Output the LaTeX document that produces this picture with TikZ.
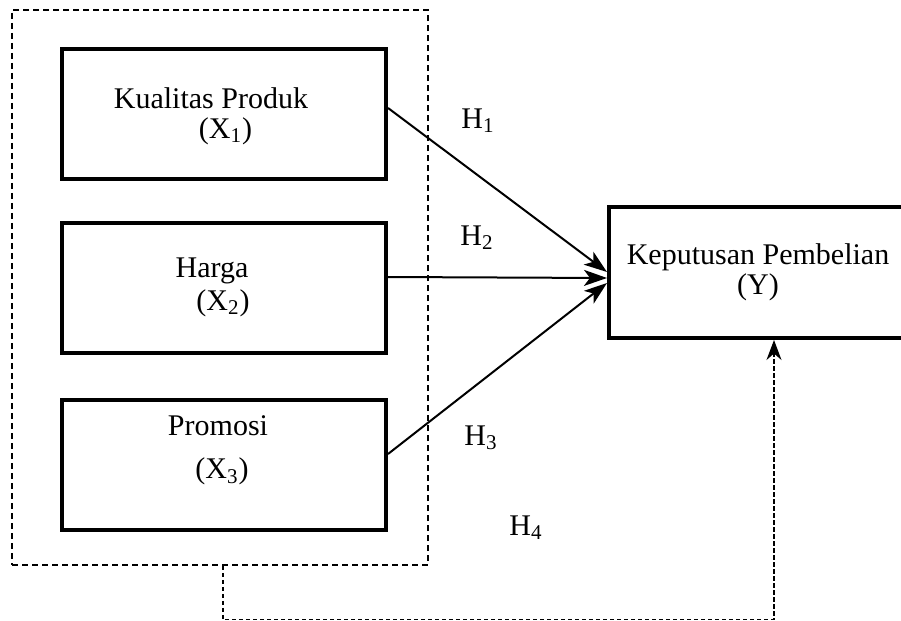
\documentclass[tikz,border=0pt]{standalone}
\usepackage{fontspec}
\setmainfont{Liberation Serif}
\usetikzlibrary{arrows.meta,positioning}
\tikzset{
    every node/.style={font=\fontsize{15}{17}\selectfont},
    var node/.style={draw,line width=2pt,align=center,minimum width=162pt,minimum height=65pt,inner sep=0pt},
    var text/.style={align=center,inner sep=0pt},
    group box/.style={draw,line width=0.75pt,dash pattern=on 3pt off 2pt,minimum width=208pt,minimum height=277.5pt},
    group link/.style={line width=0.6pt,dash pattern=on 2.2pt off 1.3pt,-{Stealth[length=10pt,width=7.5pt]}},
    path link/.style={line width=1pt,-{Stealth[length=11.5pt,width=8pt,inset=3pt]}}
}

\begin{document}
\begin{tikzpicture}[
            x = 0.5pt, y = -0.5pt, % one unit = one pixel of the sketch
            shorten > = 0pt
        ]
        \useasboundingbox (0,0) rectangle (901,621);

        \node[group box] (grp) at (220,287.5) {};

        \node[var node] (x1) at (224,113.5) {};
        \node[var node] [below=20pt of x1] (x2) {};
        \node[var node] [below=21.5pt of x2] (x3) {};
        \node[var node, minimum width=149pt, minimum height=65.5pt] (y) at (758,272.5) {Keputusan Pembelian\\[-2pt](Y)};

        % texts sit off centre in the boxes
        \node[var text] (x1t) at ([xshift=-6.5pt,yshift=-1.15pt]x1.center) {Kualitas Produk\\[-2pt]\hspace*{14.5pt}(X\textsubscript{1})};
        \node[var text] (x2t) at ([xshift=-6pt]x2.center) {Harga\\[-0.5pt]\hspace*{11pt}(X\textsubscript{2})};
        \node[var text] (x3t) at ([xshift=-3pt,yshift=7pt]x3.center) {Promosi\\[4.5pt]\hspace*{4pt}(X\textsubscript{3})};

        \draw[path link] ([yshift=2.75pt]x1.east) -- ([yshift=0.25pt]y.west);
        \draw[path link] ([yshift=5.25pt]x2.east) -- ([yshift=-2.75pt]y.west);
        \draw[path link] ([yshift=5.25pt]x3.east) -- ([yshift=-5.25pt]y.west);
        \draw[group link] ([xshift=1.5pt]grp.south) -- ++(0,54) -| ([xshift=8pt]y.south);

        \node (h1) at (478,121) {H\textsubscript{1}};
        \node (h2) at (477,238) {H\textsubscript{2}};
        \node (h3) at (481,438) {H\textsubscript{3}};
        \node (h4) at (526,528) {H\textsubscript{4}};

  \end{tikzpicture}
\end{document}
